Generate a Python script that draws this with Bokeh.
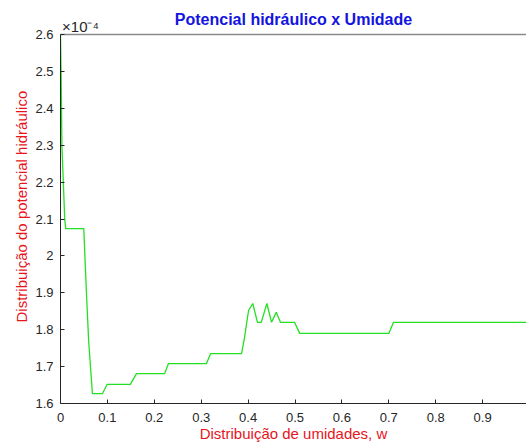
import math
from bokeh.plotting import figure
from bokeh.models import LinearAxis, FixedTicker, CustomJSTickFormatter, Range1d, Title
from bokeh.embed import file_html
from bokeh.resources import INLINE

# ---- data (potential values in units of 1e-4) ----
umidade = [0.0, 0.0015, 0.003, 0.006, 0.009, 0.011, 0.0497, 0.052, 0.056, 0.060, 0.068,
           0.0896, 0.0995, 0.149, 0.162, 0.222, 0.230, 0.311, 0.320, 0.386, 0.392,
           0.401, 0.410, 0.420, 0.428, 0.440, 0.450, 0.460, 0.469, 0.499, 0.510,
           0.700, 0.710, 0.994]
potencial = [2.60, 2.48, 2.30, 2.20, 2.10, 2.074, 2.074, 2.00, 1.88, 1.77, 1.627,
             1.627, 1.652, 1.652, 1.681, 1.681, 1.708, 1.708, 1.735, 1.735, 1.776,
             1.852, 1.871, 1.820, 1.820, 1.871, 1.820, 1.847, 1.820, 1.820, 1.790,
             1.790, 1.820, 1.820]
x_ticks = [0.0, 0.1, 0.2, 0.3, 0.4, 0.5, 0.6, 0.7, 0.8, 0.9]
y_ticks = [1.6, 1.7, 1.8, 1.9, 2.0, 2.1, 2.2, 2.3, 2.4, 2.5, 2.6]

title_text = "Potencial hidráulico x Umidade"
xlabel_text = "Distribuição de umidades, w"
ylabel_text = "Distribuição do potencial hidráulico"
exp_text = "×10⁻⁴"

FONT = "Liberation Sans"
RED = "#e8141c"
TXT = "#262626"

p = figure(width=526, height=448, x_range=Range1d(0, 0.9936), y_range=Range1d(1.6, 2.6),
           output_backend="svg", toolbar_location=None, title_location=None,
           min_border_left=60, min_border_right=0, min_border_top=34, min_border_bottom=45)
p.grid.visible = False
p.outline_line_color = None
p.background_fill_color = "white"
p.border_fill_color = "white"

p.line(umidade, potencial, line_color="#22e022", line_width=1.3)

fmt = CustomJSTickFormatter(code="return (Math.round(tick*10)/10).toString();")

xa = p.xaxis[0]
xa.ticker = FixedTicker(ticks=x_ticks)
xa.formatter = fmt
ya = p.yaxis[0]
ya.ticker = FixedTicker(ticks=y_ticks)
ya.formatter = fmt
for ax in (xa, ya):
    ax.major_tick_in = 4
    ax.major_tick_out = 0
    ax.minor_tick_in = 0
    ax.minor_tick_out = 0
    ax.axis_line_color = TXT
    ax.major_tick_line_color = TXT
    ax.major_label_text_font = FONT
    ax.major_label_text_font_size = "13px"
    ax.major_label_text_color = TXT
xa.major_label_standoff = 9
ya.major_label_standoff = 7

xa.axis_label = xlabel_text
xa.axis_label_text_font = FONT
xa.axis_label_text_font_size = "15px"
xa.axis_label_text_font_style = "normal"
xa.axis_label_text_color = RED
xa.axis_label_standoff = 0

# top box line: carries the exponent marker as its only tick label and the title
exp_pos = 0.0426
top = LinearAxis(ticker=FixedTicker(ticks=[exp_pos]),
                 formatter=CustomJSTickFormatter(code="return '%s';" % exp_text))
top.major_tick_in = 0
top.major_tick_out = 0
top.minor_tick_in = 0
top.minor_tick_out = 0
top.major_tick_line_color = None
top.axis_line_color = "#8a8a8a"
top.axis_line_width = 1.5
top.major_label_standoff = 0
top.major_label_text_font = FONT
top.major_label_text_font_size = "15px"
top.major_label_text_color = TXT
top.axis_label = title_text
top.axis_label_text_font = FONT
top.axis_label_text_font_size = "16px"
top.axis_label_text_font_style = "bold"
top.axis_label_text_color = "#1414e0"
top.axis_label_standoff = -13
p.add_layout(top, "above")

p.add_layout(Title(text=ylabel_text, align="left", offset=81, standoff=6,
                   text_font=FONT, text_font_size="15px", text_font_style="normal",
                   text_color=RED), "left")

open("out.html", "w").write(file_html(p, INLINE))
